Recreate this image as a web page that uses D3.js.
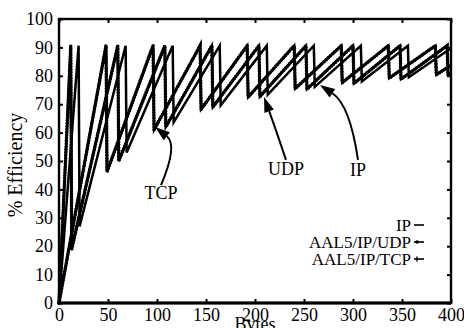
<!DOCTYPE html>
<html>
<head>
<meta charset="utf-8">
<script src="https://cdn.jsdelivr.net/npm/d3@7"></script>
<style>
  html, body { margin: 0; padding: 0; background: #fff; }
  svg { display: block; font-family: "Liberation Serif", "Times New Roman", serif; }
</style>
</head>
<body>
<div id="chart"></div>
<script>
// sawtooth vertices (peaks and troughs)
const tcpBytes = [0, 48, 49, 96, 97, 144, 145, 192, 193, 240, 241, 288, 289, 336, 337, 384, 385, 400];
const tcpEff   = [0, 90.6, 46.2, 90.6, 61.0, 90.6, 68.2, 90.6, 72.5, 90.6, 75.5, 90.6, 77.6, 90.6, 79.2, 90.6, 80.4, 83.7];

const udpBytes = [0, 12, 13, 60, 61, 108, 109, 156, 157, 204, 205, 252, 253, 300, 301, 348, 349, 396, 397, 400];
const udpEff   = [0, 90.6, 19.0, 90.6, 50.0, 90.6, 62.0, 90.6, 69.0, 90.6, 72.7, 90.6, 75.3, 90.6, 77.3, 90.6, 78.8, 90.6, 80.2, 80.8];

const ipBytes  = [0, 20, 21, 68, 69, 116, 117, 164, 165, 212, 213, 260, 261, 308, 309, 356, 357, 400];
const ipEff    = [0, 90.6, 27.0, 90.6, 53.0, 90.6, 63.6, 90.6, 69.6, 90.6, 73.4, 90.6, 76.1, 90.6, 78.0, 90.6, 79.5, 89.7];

const xTicks = [0, 50, 100, 150, 200, 250, 300, 350, 400];
const yTicks = [0, 10, 20, 30, 40, 50, 60, 70, 80, 90, 100];

const legendLabels = ['IP', 'AAL5/IP/UDP', 'AAL5/IP/TCP'];

// annotation arrows: tail, control, tip in data units, plus label anchor
const notes = [
  { text: 'TCP', label: [104.1, 36.6], tail: [104.1, 41.5], ctrl: [121.4, 55.6], tip: [98.0, 62.0] },
  { text: 'UDP', label: [231.6, 45.1], tail: [231.6, 50.4], ctrl: [221.4, 60.9], tip: [209.2, 72.5] },
  { text: 'IP',  label: [305.1, 44.7], tail: [305.1, 50.4], ctrl: [296.9, 69.7], tip: [266.3, 76.8] }
];

const width = 464, height = 328;
const margin = { top: 19, right: 13, bottom: 25, left: 59 };

const svg = d3.select('#chart').append('svg')
  .attr('width', width)
  .attr('height', height);

const x = d3.scaleLinear().domain([0, 400]).range([margin.left, width - margin.right]);
const y = d3.scaleLinear().domain([0, 100]).range([height - margin.bottom, margin.top]);

// axes, ticks pointing inward on all four sides
svg.append('g')
  .attr('transform', `translate(0,${y(0)})`)
  .call(d3.axisBottom(x).tickValues(xTicks).tickSizeInner(-4).tickSizeOuter(0).tickPadding(5));
svg.append('g')
  .attr('transform', `translate(${x(0)},0)`)
  .call(d3.axisLeft(y).tickValues(yTicks).tickSizeInner(-4).tickSizeOuter(0).tickPadding(6));
svg.append('g')
  .attr('transform', `translate(0,${y(100)})`)
  .call(d3.axisTop(x).tickValues(xTicks).tickSizeInner(-4).tickSizeOuter(0).tickFormat(''));
svg.append('g')
  .attr('transform', `translate(${x(400)},0)`)
  .call(d3.axisRight(y).tickValues(yTicks).tickSizeInner(-4).tickSizeOuter(0).tickFormat(''));

svg.selectAll('.domain').remove();
svg.selectAll('.tick line').attr('stroke', '#000').attr('stroke-width', 2);
svg.selectAll('.tick text')
  .attr('fill', '#000')
  .style('font-size', '18px')
  .style('font-family', '"Liberation Serif", "Times New Roman", serif');

// frame
svg.append('rect')
  .attr('x', x(0)).attr('y', y(100))
  .attr('width', x(400) - x(0)).attr('height', y(0) - y(100))
  .attr('fill', 'none').attr('stroke', '#000').attr('stroke-width', 2.4);
svg.append('line')
  .attr('x1', x(0)).attr('x2', x(400)).attr('y1', y(0)).attr('y2', y(0))
  .attr('stroke', '#000').attr('stroke-width', 3);

// axis titles
svg.append('text')
  .attr('transform', `translate(22,${(y(0) + y(100)) / 2 + 4}) rotate(-90)`)
  .attr('text-anchor', 'middle')
  .style('font-size', '20px')
  .text('% Efficiency');
svg.append('text')
  .attr('x', 255).attr('y', 330)
  .attr('text-anchor', 'middle')
  .style('font-size', '18px')
  .text('Bytes');

// series
const line = d3.line().x(d => x(d[0])).y(d => y(d[1]));
const series = [
  { pts: d3.zip(ipBytes, ipEff), dots: false },
  { pts: d3.zip(udpBytes, udpEff), dots: true },
  { pts: d3.zip(tcpBytes, tcpEff), dots: true }
];

const plot = svg.append('g');
series.forEach(s => {
  plot.append('path')
    .attr('d', line(s.pts))
    .attr('fill', 'none')
    .attr('stroke', '#000')
    .attr('stroke-width', 2.5)
    .attr('stroke-linejoin', 'miter');
  if (s.dots) {
    // beaded look of the per-byte markers
    plot.append('path')
      .attr('d', line(s.pts))
      .attr('fill', 'none')
      .attr('stroke', '#000')
      .attr('stroke-width', 3.6)
      .attr('stroke-linecap', 'round')
      .attr('stroke-dasharray', '0.1 2.8');
  }
});

// legend
const legend = svg.append('g');
legendLabels.forEach((lab, i) => {
  const by = 231 + i * 17;
  legend.append('text')
    .attr('x', 411).attr('y', by)
    .attr('text-anchor', 'end')
    .style('font-size', '17px')
    .text(lab);
  legend.append('line')
    .attr('x1', 414).attr('x2', 424).attr('y1', by - 6).attr('y2', by - 6)
    .attr('stroke', '#000').attr('stroke-width', 1.6);
  if (i === 1) {
    legend.append('circle').attr('cx', 417).attr('cy', by - 6).attr('r', 1.8).attr('fill', '#000');
  }
  if (i === 2) {
    legend.append('line')
      .attr('x1', 417).attr('x2', 417).attr('y1', by - 8.5).attr('y2', by - 3.5)
      .attr('stroke', '#000').attr('stroke-width', 1.4);
  }
});

// annotations
const ann = svg.append('g');
notes.forEach(n => {
  const t = [x(n.tail[0]), y(n.tail[1])];
  const c = [x(n.ctrl[0]), y(n.ctrl[1])];
  const p = [x(n.tip[0]), y(n.tip[1])];
  const ang = Math.atan2(p[1] - c[1], p[0] - c[0]);
  const len = 15, half = 5;
  const bx = p[0] - len * Math.cos(ang), by = p[1] - len * Math.sin(ang);
  // shaft stops at the head base
  const path = d3.path();
  path.moveTo(t[0], t[1]);
  path.quadraticCurveTo(c[0], c[1], bx, by);
  ann.append('path')
    .attr('d', path.toString())
    .attr('fill', 'none').attr('stroke', '#000').attr('stroke-width', 2);
  ann.append('polygon')
    .attr('points', [
      [p[0], p[1]],
      [bx + half * Math.sin(ang), by - half * Math.cos(ang)],
      [bx - half * Math.sin(ang), by + half * Math.cos(ang)]
    ].map(q => q.join(',')).join(' '))
    .attr('fill', '#000');
  ann.append('text')
    .attr('x', x(n.label[0])).attr('y', y(n.label[1]))
    .attr('text-anchor', 'middle')
    .style('font-size', '18px')
    .text(n.text);
});
</script>
</body>
</html>
